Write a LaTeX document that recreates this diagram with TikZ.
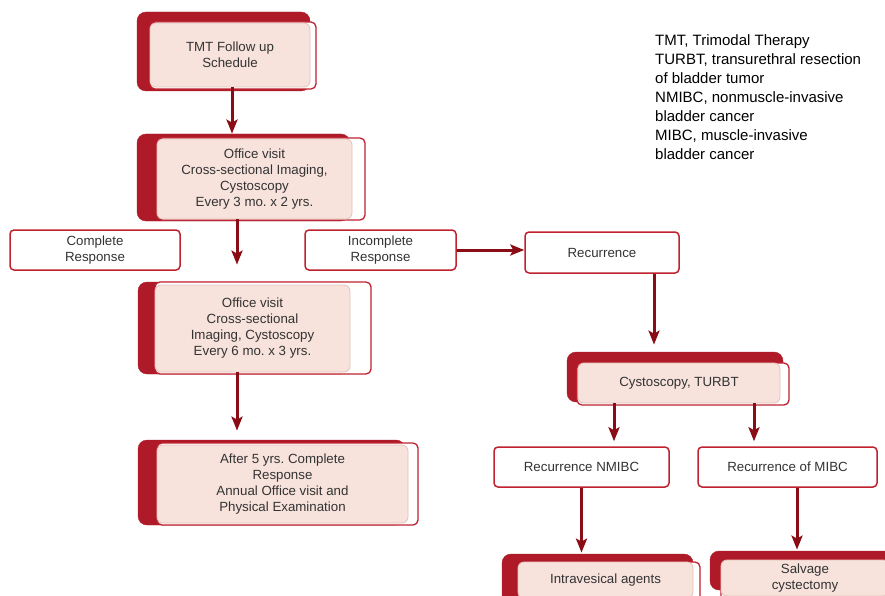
\documentclass[tikz,border=0pt]{standalone}
\usepackage{fontspec}
\setmainfont{Liberation Sans}
\usetikzlibrary{arrows.meta}
\frenchspacing
\definecolor{darkred}{HTML}{AE1A28}
\definecolor{framered}{HTML}{C0222F}
\definecolor{pinkfill}{HTML}{F7E2DC}
\definecolor{pinkline}{HTML}{E3C3BC}
\definecolor{arrowred}{HTML}{8A0C14}
\definecolor{textgray}{HTML}{333333}
\tikzset{
  backbox/.style={fill=darkred, draw=darkred, rounded corners=9pt},
  framebox/.style={fill=white, draw=framered, line width=1.3pt, rounded corners=5pt},
  innerbox/.style={fill=pinkfill, draw=pinkline, line width=0.8pt, rounded corners=6pt,
    align=center, inner sep=0pt, text=textgray, font=\fontsize{13.3}{16}\selectfont},
  plainbox/.style={fill=white, draw=framered, line width=1.5pt, rounded corners=4pt,
    align=center, inner sep=0pt, text=textgray, font=\fontsize{13.3}{16}\selectfont},
  arr/.style={->, draw=arrowred, line width=3pt},
}
\begin{document}
\begin{tikzpicture}[x=1pt,y=-1pt,>={Stealth[length=14pt,width=11pt,inset=3pt]},line join=round]
				\useasboundingbox (0,0) rectangle (885,596);
				\clip (0,0) rectangle (885,596);
				% left column
				\draw[backbox] (137,12) rectangle (310,91);
				\draw[framebox] (150,22) rectangle (316,89);
				\node[innerbox, minimum width=160pt, minimum height=64pt] (tmt) at (230,55) {TMT Follow up\\Schedule};
				\draw[backbox] (137,134) rectangle (350,221);
				\draw[framebox] (157,138) rectangle (365,220);
				\node[innerbox, minimum width=195pt, minimum height=80pt] (visit3) at (254.5,179) {Office visit\\Cross-sectional Imaging,\\Cystoscopy\\Every 3 mo. x 2 yrs.};
				\draw[backbox] (138,282) rectangle (350,374);
				\draw[framebox] (155,282) rectangle (371,374);
				\node[innerbox, minimum width=195pt, minimum height=87pt] (visit6) at (252.5,328.5) {Office visit\\Cross-sectional\\Imaging, Cystoscopy\\Every 6 mo. x 3 yrs.};
				\draw[backbox] (138,440) rectangle (405,525);
				\draw[framebox] (157,443) rectangle (418,525);
				\node[innerbox, minimum width=251pt, minimum height=78pt] (after5) at (282.5,484) {After 5 yrs. Complete\\Response\\Annual Office visit and\\Physical Examination};
				\node[plainbox, minimum width=170pt, minimum height=40pt] (comp) at (95,250) {Complete\\Response};
				\node[plainbox, minimum width=151pt, minimum height=40pt] (incomp) at (380.5,250) {Incomplete\\Response};
				% right column
				\node[plainbox, minimum width=154pt, minimum height=41pt] (recur) at (602,252.5) {Recurrence};
				\draw[backbox] (567,352) rectangle (783,402);
				\draw[framebox] (577,363) rectangle (789,405);
				\node[innerbox, minimum width=202pt, minimum height=40pt] (turbt) at (679,383) {Cystoscopy, TURBT};
				\node[plainbox, minimum width=175pt, minimum height=40pt] (nmibc) at (581.5,467) {Recurrence NMIBC};
				\node[plainbox, minimum width=179pt, minimum height=40pt] (mibc) at (787.5,467) {Recurrence of MIBC};
				\draw[backbox] (502,554) rectangle (693,615);
				\draw[framebox] (518,562) rectangle (700,615);
				\node[innerbox, minimum width=175pt, minimum height=36pt] (intraves) at (605.5,580) {Intravesical agents};
				\draw[backbox] (710,551) rectangle (895,590);
				\draw[framebox] (721,560) rectangle (895,615);
				\node[innerbox, minimum width=168pt, minimum height=36pt] (salvage) at (805,578) {Salvage\\cystectomy};
				% arrows
				\coordinate (c2) at (237,0);
				\coordinate (c5) at (654,0);
				\coordinate (c6) at (614,0);
				\coordinate (c7) at (754,0);
				\coordinate (c9) at (797,0);
				\draw[arr, shorten >=5pt] ([xshift=2pt]tmt.south) -- ([xshift=2pt]tmt.south |- visit3.north);
				\draw[arr, shorten >=20pt] (visit3.south -| c2) -- (visit6.north -| c2);
				\draw[arr, shorten >=14pt] (visit6.south -| c2) -- (after5.north -| c2);
				\draw[arr] (incomp.east) -- (incomp.east -| recur.west);
				\draw[arr, shorten >=18pt] (recur.south -| c5) -- (turbt.north -| c5);
				\draw[arr, shorten >=5pt] (turbt.south -| c6) -- (nmibc.north -| c6);
				\draw[arr, shorten >=5pt] (turbt.south -| c7) -- (mibc.north -| c7);
				\draw[arr, shorten >=9pt] (nmibc.south) -- (nmibc.south |- intraves.north);
				\draw[arr, shorten >=10pt] (mibc.south -| c9) -- (salvage.north -| c9);
				% abbreviations
				\node[anchor=north west, align=left, inner sep=0pt, font=\fontsize{15}{19}\selectfont] (abbr) at (655,34) {TMT, Trimodal Therapy\\TURBT, transurethral resection\\of bladder tumor\\NMIBC, nonmuscle-invasive\\bladder cancer\\MIBC, muscle-invasive\\bladder cancer};
			\end{tikzpicture}
\end{document}
